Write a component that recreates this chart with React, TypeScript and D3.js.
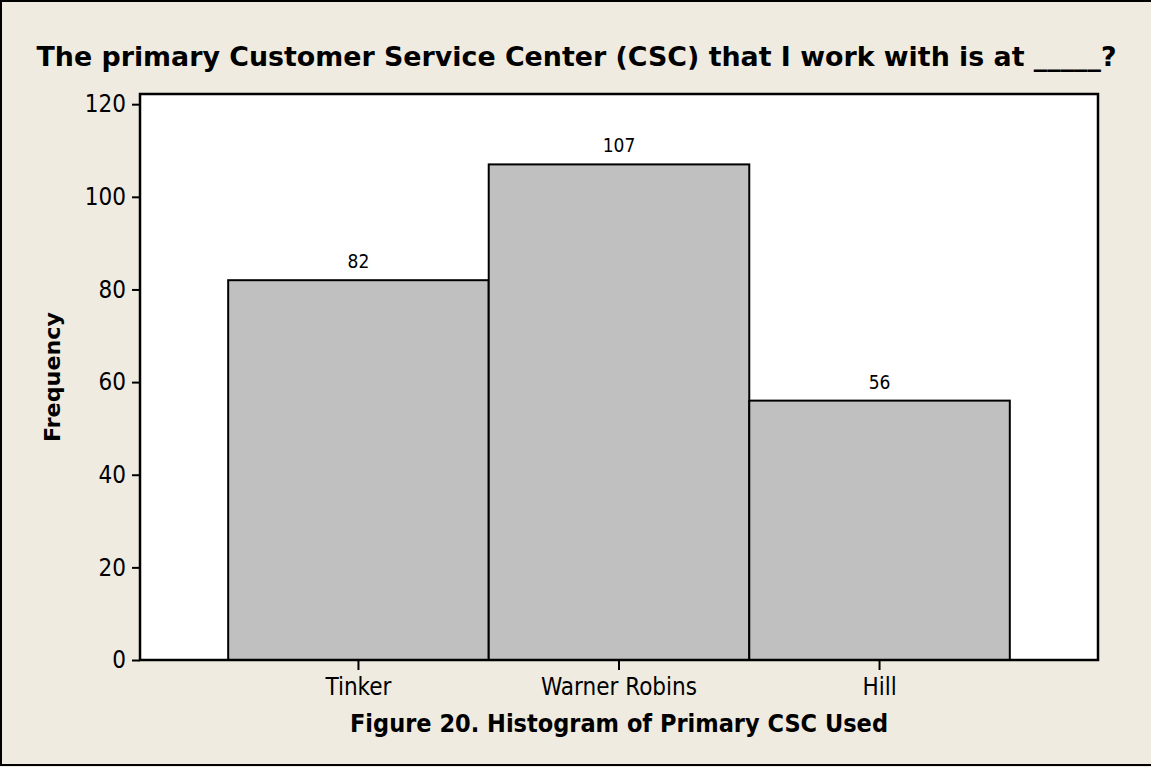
import * as d3 from "d3";
import { useEffect, useRef } from "react";

const categories = ["Tinker", "Warner Robins", "Hill"];
const counts = [82, 107, 56];
const yTicks = [0, 20, 40, 60, 80, 100, 120];

const W = 1151;
const H = 767;
const frame = { left: 140, top: 94, right: 1098, bottom: 660 };
const font = "Tahoma, 'DejaVu Sans Condensed', 'DejaVu Sans', sans-serif";

const App = () => {
  const ref = useRef<SVGSVGElement>(null);

  useEffect(() => {
    const svg = d3.select(ref.current);
    svg.selectAll("*").remove();

    svg.append("rect")
      .attr("x", 0).attr("y", 0).attr("width", W).attr("height", H)
      .attr("fill", "#efebe1");
    svg.append("rect")
      .attr("x", 1).attr("y", 1).attr("width", W + 4).attr("height", H - 3)
      .attr("fill", "none").attr("stroke", "#000").attr("stroke-width", 2);

    const x = d3.scaleBand()
      .domain(categories)
      .range([frame.left, frame.right])
      .paddingInner(0)
      .paddingOuter(88 / 260);
    const y = d3.scaleLinear()
      .domain([0, 122.2])
      .range([frame.bottom, frame.top]);

    // plot frame
    svg.append("rect")
      .attr("x", frame.left).attr("y", frame.top)
      .attr("width", frame.right - frame.left)
      .attr("height", frame.bottom - frame.top)
      .attr("fill", "#fff");

    svg.append("g")
      .selectAll("rect")
      .data(categories)
      .join("rect")
      .attr("x", (d) => x(d)!)
      .attr("y", (d, i) => y(counts[i]))
      .attr("width", x.bandwidth())
      .attr("height", (d, i) => y(0) - y(counts[i]))
      .attr("fill", "#c0c0c0")
      .attr("stroke", "#000")
      .attr("stroke-width", 2);

    svg.append("g")
      .attr("font-family", font)
      .attr("font-size", 19)
      .attr("text-anchor", "middle")
      .selectAll("text")
      .data(categories)
      .join("text")
      .attr("x", (d) => x(d)! + x.bandwidth() / 2)
      .attr("y", (d, i) => y(counts[i]) - 12)
      .text((d, i) => counts[i]);

    svg.append("rect")
      .attr("x", frame.left).attr("y", frame.top)
      .attr("width", frame.right - frame.left)
      .attr("height", frame.bottom - frame.top)
      .attr("fill", "none").attr("stroke", "#000").attr("stroke-width", 2.5);

    // y axis
    const yAxis = svg.append("g")
      .attr("transform", `translate(${frame.left},0)`)
      .call(d3.axisLeft(y).tickValues(yTicks).tickSize(8).tickPadding(6));
    yAxis.select(".domain").remove();
    yAxis.selectAll("line").attr("stroke", "#000").attr("stroke-width", 2);
    yAxis.selectAll("text")
      .attr("font-family", font).attr("font-size", 24).attr("fill", "#000");

    // x axis
    const xAxis = svg.append("g")
      .attr("transform", `translate(0,${frame.bottom})`)
      .call(d3.axisBottom(x).tickSize(10).tickPadding(8));
    xAxis.select(".domain").remove();
    xAxis.selectAll("line").attr("stroke", "#000").attr("stroke-width", 2);
    xAxis.selectAll("text")
      .attr("font-family", font).attr("font-size", 24).attr("fill", "#000");

    // titles
    svg.append("text")
      .attr("x", W / 2 + 1).attr("y", 66)
      .attr("text-anchor", "middle")
      .attr("font-family", font).attr("font-weight", "bold").attr("font-size", 27)
      .attr("textLength", 1080).attr("lengthAdjust", "spacingAndGlyphs")
      .text("The primary Customer Service Center (CSC) that I work with is at _____?");

    svg.append("text")
      .attr("x", (frame.left + frame.right) / 2).attr("y", 732)
      .attr("text-anchor", "middle")
      .attr("font-family", font).attr("font-weight", "bold").attr("font-size", 24)
      .attr("textLength", 538).attr("lengthAdjust", "spacingAndGlyphs")
      .text("Figure 20.  Histogram of Primary CSC Used");

    svg.append("text")
      .attr("transform", `translate(60,${(frame.top + frame.bottom) / 2}) rotate(-90)`)
      .attr("text-anchor", "middle")
      .attr("font-family", font).attr("font-weight", "bold").attr("font-size", 22)
      .attr("textLength", 130).attr("lengthAdjust", "spacingAndGlyphs")
      .text("Frequency");
  }, []);

  return (
    <svg
      ref={ref}
      width={W}
      height={H}
      style={{ position: "absolute", left: 0, top: 0, display: "block" }}
    />
  );
};

export default App;
